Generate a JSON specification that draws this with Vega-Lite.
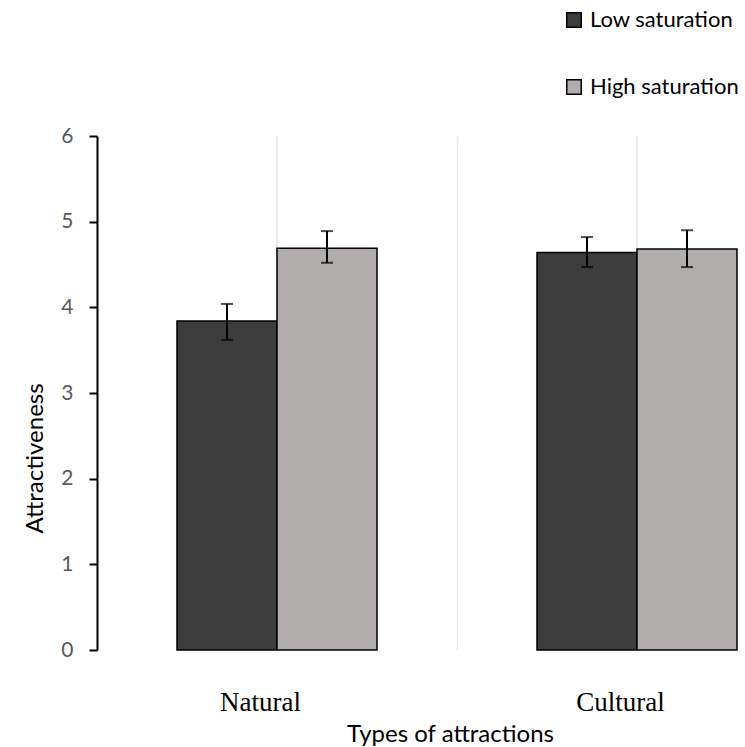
{
  "$schema": "https://vega.github.io/schema/vega-lite/v6.json",
  "autosize": {"type": "none"},
  "width": 648,
  "height": 514,
  "padding": {"left": 97, "top": 136, "right": 0, "bottom": 97},
  "background": "white",
  "data": {"values": [
    {"type": "Natural", "saturation": "Low saturation", "mean": 3.84, "lo": 3.62, "hi": 4.04},
    {"type": "Natural", "saturation": "High saturation", "mean": 4.69, "lo": 4.52, "hi": 4.89},
    {"type": "Cultural", "saturation": "Low saturation", "mean": 4.64, "lo": 4.47, "hi": 4.82},
    {"type": "Cultural", "saturation": "High saturation", "mean": 4.68, "lo": 4.47, "hi": 4.90}
  ]},
  "config": {"view": {"stroke": null}},
  "encoding": {
    "x": {
      "field": "type", "type": "nominal",
      "scale": {"domain": ["Natural", "Cultural"], "range": [0, 720], "paddingInner": 0, "paddingOuter": 0},
      "axis": {
        "title": "Types of attractions",
        "titleFont": "Lato", "titleFontSize": 24, "titleFontWeight": "normal", "titleColor": "black",
        "titleX": 353, "titleY": 91, "titleBaseline": "alphabetic", "titleAlign": "center", "titleAnchor": null,
        "labelFont": "Liberation Serif", "labelFontSize": 27, "labelColor": "black", "labelAngle": 0,
        "labelPadding": 60, "labelBaseline": "alphabetic", "labelOffset": -17,
        "domain": false, "ticks": false,
        "grid": true, "tickBand": "extent", "gridColor": "#e8e8e8", "gridWidth": 1.5
      }
    },
    "xOffset": {
      "field": "saturation", "type": "nominal",
      "scale": {"domain": ["Low saturation", "High saturation"], "paddingInner": 0, "paddingOuter": 0.8}
    }
  },
  "layer": [
    {
      "mark": {"type": "rule", "color": "#e8e8e8", "strokeWidth": 1.5},
      "encoding": {
        "xOffset": null,
        "y": {"datum": 0, "type": "quantitative"},
        "y2": {"datum": 6}
      }
    },
    {
      "mark": {"type": "bar", "stroke": "black", "strokeWidth": 1.5},
      "encoding": {
        "y": {
          "field": "mean", "type": "quantitative",
          "scale": {"domain": [0, 6]},
          "axis": {
            "title": "Attractiveness", "titleFont": "Lato", "titleFontSize": 24, "titleFontWeight": "normal", "titleColor": "black",
            "titleX": -62, "titleY": 322, "titleAngle": 270, "titleAlign": "center", "titleBaseline": "middle", "titleAnchor": null,
            "values": [0, 1, 2, 3, 4, 5, 6], "format": "d", "grid": false,
            "domainColor": "black", "domainWidth": 2,
            "tickColor": "black", "tickWidth": 2, "tickSize": 8,
            "labelFont": "Lato", "labelFontSize": 21, "labelColor": "#595959", "labelPadding": 16
          }
        },
        "color": {
          "field": "saturation", "type": "nominal",
          "scale": {"domain": ["Low saturation", "High saturation"], "range": ["#3c3c3c", "#b2adad"]},
          "legend": {
            "title": null, "orient": "none", "legendX": 466, "legendY": -127,
            "symbolType": "square", "symbolSize": 210, "symbolStrokeColor": "black", "symbolStrokeWidth": 1.5,
            "labelFont": "Lato", "labelFontSize": 22, "labelColor": "black", "labelOffset": 5,
            "rowPadding": 45, "labelLimit": 300
          }
        }
      }
    },
    {
      "mark": {"type": "rule", "color": "black", "strokeWidth": 2},
      "encoding": {
        "y": {"field": "lo", "type": "quantitative"},
        "y2": {"field": "hi"}
      }
    },
    {
      "mark": {"type": "tick", "color": "black", "thickness": 2, "size": 12, "orient": "horizontal"},
      "encoding": {"y": {"field": "lo", "type": "quantitative"}}
    },
    {
      "mark": {"type": "tick", "color": "black", "thickness": 2, "size": 12, "orient": "horizontal"},
      "encoding": {"y": {"field": "hi", "type": "quantitative"}}
    }
  ]
}
